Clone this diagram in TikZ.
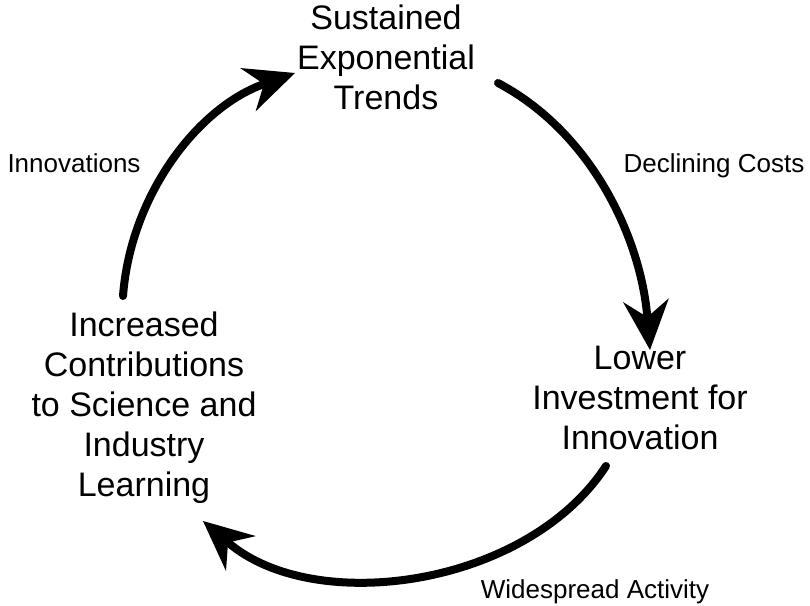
\documentclass[tikz,border=0pt]{standalone}
\usepackage{fontspec}
\setmainfont{Liberation Sans}
\usetikzlibrary{arrows.meta}
\tikzset{
  block/.style={inner sep=0pt, align=center, anchor=north, font=\fontsize{34}{40}\selectfont},
  lbl/.style={inner sep=0pt, anchor=base, font=\fontsize{26}{30}\selectfont},
  cyc/.style={line width=8pt, line cap=round,
    -{Stealth[length=50pt,width=46pt,inset=17pt,line width=0pt]}}
}
\begin{document}
\begin{tikzpicture}[x=1pt,y=-1pt]
\useasboundingbox (0,0) rectangle (810,605);
\node[block] (top) at (386,4.5) {Sustained\\Exponential\\Trends};
\node[block] (right) at (640,346) {Lower\\Investment for\\Innovation};
\node[block] (left) at (144,312) {Increased\\Contributions\\to Science and\\Industry\\Learning};
\node[lbl] (l1) at (714,172) {Declining Costs};
\node[lbl] (l2) at (74,172) {Innovations};
\node[lbl] (l3) at (595,598) {Widespread Activity};
\coordinate (s1) at (123,296);
\coordinate (e1) at (295,73);
\coordinate (s2) at (498,83);
\coordinate (e2) at (650,350);
\coordinate (s3) at (606,466);
\coordinate (e3) at (203,521);
\draw[cyc] (s1) .. controls (130.6,195.3) and (197.5,107.6) .. (e1);
\draw[cyc] (s2) .. controls (593.4,133.5) and (641,240.4) .. (e2);
\draw[cyc] (s3) .. controls (526.7,587.4) and (314.3,616.4) .. (e3);
\end{tikzpicture}
\end{document}
